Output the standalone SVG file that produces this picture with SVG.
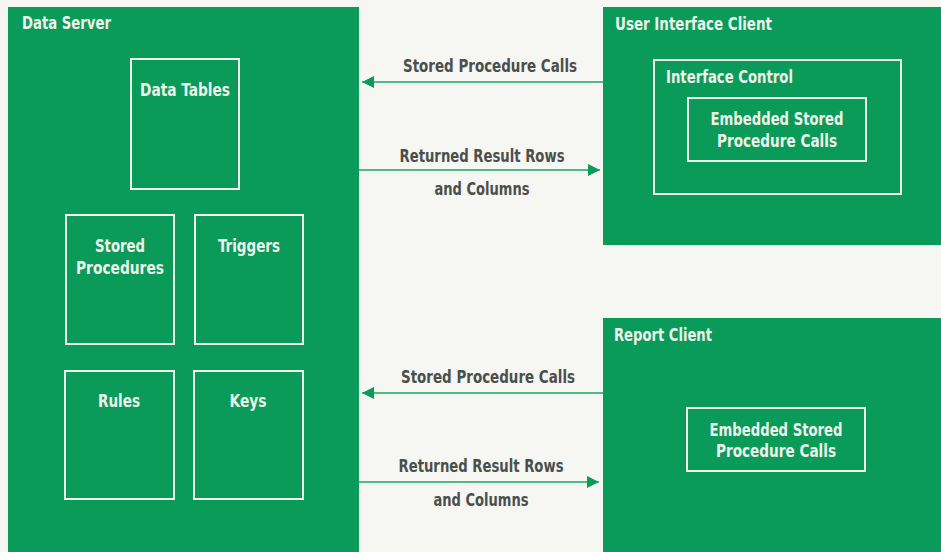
<svg xmlns="http://www.w3.org/2000/svg" width="941" height="552" viewBox="0 0 941 552">
<style>
.bg{fill:#f6f6f2}
.panel{fill:#0a9a5a}
.box{fill:none;stroke:#eef3ea;stroke-width:2}
.t{font-family:"Liberation Sans Narrow","DejaVu Sans Condensed","Liberation Sans",sans-serif;font-weight:bold;font-size:18px;fill:#eef3ea}
.c{text-anchor:middle}
.lbl{font-family:"Liberation Sans Narrow","DejaVu Sans Condensed","Liberation Sans",sans-serif;font-weight:bold;font-size:18px;fill:#4a4f4c;text-anchor:middle}
.ln{stroke:#1aa565;stroke-width:1.5;fill:none}
</style>
<defs>
<marker id="ah" viewBox="0 0 12 12" refX="12" refY="6" markerWidth="12" markerHeight="12" markerUnits="userSpaceOnUse" orient="auto">
<path d="M0,0 L12,6 L0,12 Z" fill="#0a9a5a"/>
</marker>
</defs>
<rect class="bg" x="0" y="0" width="941" height="552"/>

<g id="data-server">
<rect class="panel" x="8" y="7" width="351" height="550"/>
<text class="t" x="22" y="29" textLength="89" lengthAdjust="spacingAndGlyphs">Data Server</text>
</g>
<g id="data-tables">
<rect class="box" x="131" y="59" width="108" height="130"/>
<text class="t c" x="185" y="96" textLength="90" lengthAdjust="spacingAndGlyphs">Data Tables</text>
</g>
<g id="stored-procedures">
<rect class="box" x="66" y="215" width="108" height="129"/>
<text class="t c" x="120" y="252" textLength="50" lengthAdjust="spacingAndGlyphs">Stored</text>
<text class="t c" x="120" y="274" textLength="88" lengthAdjust="spacingAndGlyphs">Procedures</text>
</g>
<g id="triggers">
<rect class="box" x="195" y="215" width="108" height="129"/>
<text class="t c" x="249" y="252" textLength="62" lengthAdjust="spacingAndGlyphs">Triggers</text>
</g>
<g id="rules">
<rect class="box" x="65" y="371" width="109" height="128"/>
<text class="t c" x="119" y="407" textLength="42" lengthAdjust="spacingAndGlyphs">Rules</text>
</g>
<g id="keys">
<rect class="box" x="194" y="371" width="109" height="128"/>
<text class="t c" x="248" y="407" textLength="37" lengthAdjust="spacingAndGlyphs">Keys</text>
</g>

<g id="user-interface-client">
<rect class="panel" x="603" y="7" width="345" height="238"/>
<text class="t" x="615" y="30" textLength="157" lengthAdjust="spacingAndGlyphs">User Interface Client</text>
</g>
<g id="interface-control">
<rect class="box" x="654" y="60" width="247" height="134"/>
<text class="t" x="666" y="83" textLength="127" lengthAdjust="spacingAndGlyphs">Interface Control</text>
</g>
<g id="ui-embedded">
<rect class="box" x="688" y="98" width="178" height="63"/>
<text class="t c" x="777" y="125" textLength="133" lengthAdjust="spacingAndGlyphs">Embedded Stored</text>
<text class="t c" x="777" y="147" textLength="120" lengthAdjust="spacingAndGlyphs">Procedure Calls</text>
</g>

<g id="report-client">
<rect class="panel" x="603" y="318" width="345" height="240"/>
<text class="t" x="614" y="341" textLength="98" lengthAdjust="spacingAndGlyphs">Report Client</text>
</g>
<g id="report-embedded">
<rect class="box" x="687" y="408" width="178" height="63"/>
<text class="t c" x="776" y="436" textLength="133" lengthAdjust="spacingAndGlyphs">Embedded Stored</text>
<text class="t c" x="776" y="457" textLength="120" lengthAdjust="spacingAndGlyphs">Procedure Calls</text>
</g>

<g id="connectors">
<line class="ln" x1="603" y1="82" x2="362" y2="82" marker-end="url(#ah)"/>
<text class="lbl" x="490" y="72" textLength="174" lengthAdjust="spacingAndGlyphs">Stored Procedure Calls</text>
<line class="ln" x1="359" y1="170" x2="600" y2="170" marker-end="url(#ah)"/>
<text class="lbl" x="482" y="162" textLength="165" lengthAdjust="spacingAndGlyphs">Returned Result Rows</text>
<text class="lbl" x="482" y="195" textLength="95" lengthAdjust="spacingAndGlyphs">and Columns</text>

<line class="ln" x1="603" y1="393" x2="362" y2="393" marker-end="url(#ah)"/>
<text class="lbl" x="488" y="383" textLength="174" lengthAdjust="spacingAndGlyphs">Stored Procedure Calls</text>
<line class="ln" x1="359" y1="482" x2="599" y2="482" marker-end="url(#ah)"/>
<text class="lbl" x="481" y="472" textLength="165" lengthAdjust="spacingAndGlyphs">Returned Result Rows</text>
<text class="lbl" x="481" y="506" textLength="95" lengthAdjust="spacingAndGlyphs">and Columns</text>
</g>
</svg>
